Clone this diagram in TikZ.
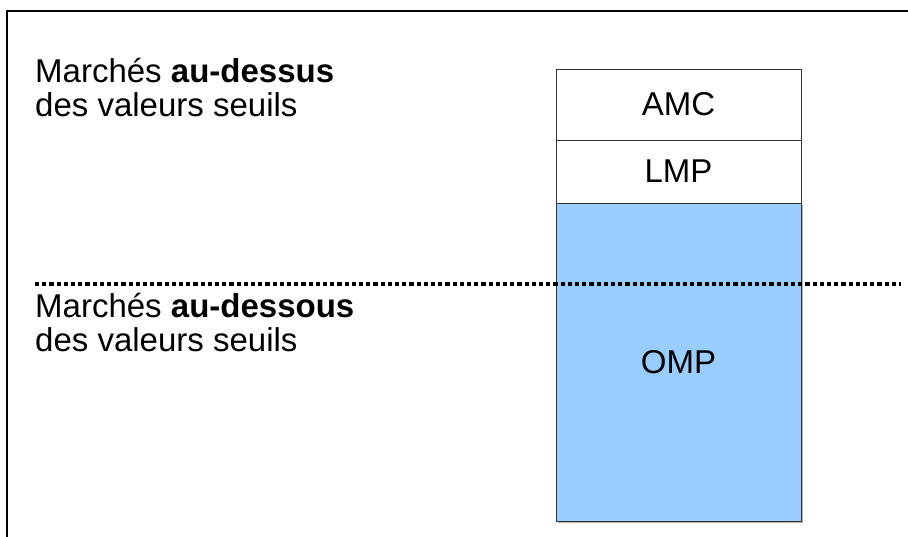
\documentclass[tikz,border=0pt]{standalone}
\usepackage{fontspec}
\setmainfont{Liberation Sans}
\definecolor{ompblue}{HTML}{99CCFF}
\definecolor{boxline}{HTML}{333333}
\begin{document}
\begin{tikzpicture}[x=1pt,y=-1pt,
  frameline/.style={line width=2.8pt,black},
  tier/.style={draw=boxline,line width=1pt,inner sep=0pt,minimum width=245pt,
    font=\fontsize{33}{38}\selectfont},
  threshold/.style={line width=4pt,dash pattern=on 4.2pt off 3pt},
  caption/.style={anchor=base west,align=left,inner sep=0pt,
    font=\fontsize{33}{34}\selectfont}]
  \useasboundingbox (0,0) rectangle (908,536);
  % open frame: top and left edges
  \coordinate (ftl) at (7,11);
  \coordinate (ftr) at (910,11);
  \coordinate (fbl) at (7,538);
  \draw[frameline] (ftr) -- (ftl) -- (fbl);
  % stacked procedures
  \fill[black!30] (557.5,205) rectangle (802.5,522.5);
  \node[tier,fill=white,minimum height=71pt] (amc) at (678.5,104.5) {AMC};
  \node[tier,fill=white,minimum height=63pt] (lmp) at (678.5,171.5) {\raisebox{-1.5pt}{LMP}};
  \node[tier,fill=ompblue,minimum height=318pt] (omp) at (678.5,362) {OMP};
  % threshold line
  \coordinate (tl) at (35,284);
  \coordinate (tr) at (901,284);
  \draw[threshold] (tl) -- (tr);
  % captions (anchored at the baseline of their last line)
  \node[caption] (above) at (35,116) {Marchés \textbf{au-dessus}\\des valeurs seuils};
  \node[caption] (below) at (35,351) {Marchés \textbf{au-dessous}\\des valeurs seuils};
\end{tikzpicture}
\end{document}
